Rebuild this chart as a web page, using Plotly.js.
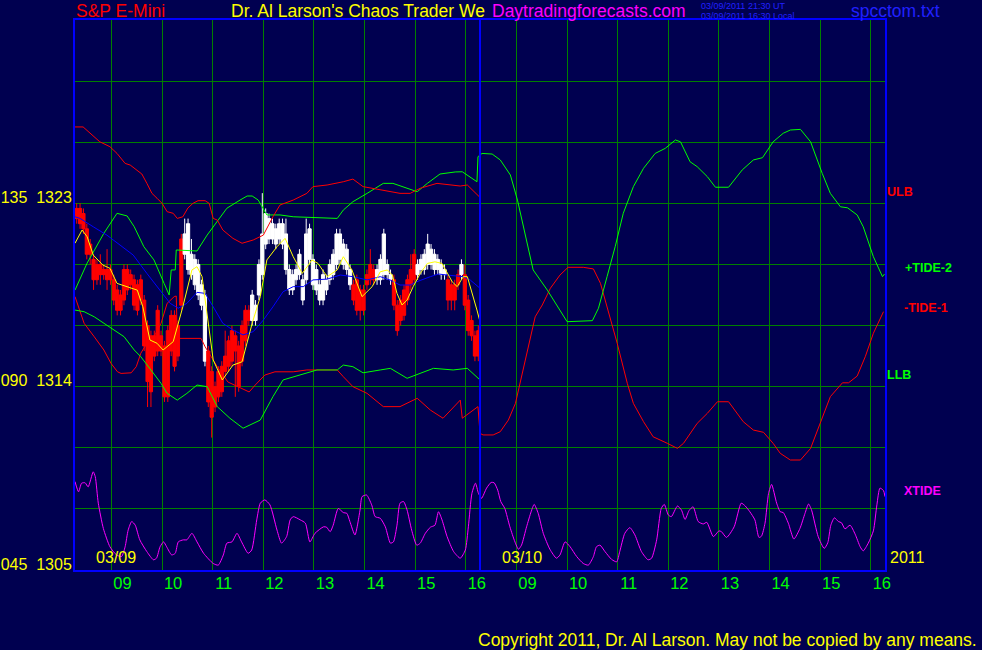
<!DOCTYPE html>
<html>
<head>
<meta charset="utf-8">
<script src="https://cdn.plot.ly/plotly-3.0.1.min.js"></script>
<style>
  html, body { margin: 0; padding: 0; background: #000050; }
  #chart { width: 982px; height: 650px; }
</style>
</head>
<body>
<div id="chart"></div>
<script>
// ---------- DATA ----------
// Time axis: hours since the 08:17 open of 03/09; 03/10 session starts at 8.
const SESSION_OPEN = 8.28;           // clock hour of session start
const DAY_BREAK = 8;                 // session length (hours)
const hourLabels = ['09', '10', '11', '12', '13', '14', '15', '16'];
const clockHours = [9, 10, 11, 12, 13, 14, 15, 16];

// Price grid (every 3 points) and left labels (XTIDE scale + price)
const priceGrid = [1305, 1308, 1311, 1314, 1317, 1320, 1323, 1326, 1329, 1332];
const priceLabels = ['045\u00a0\u00a01305', '', '', '090\u00a0\u00a01314', '', '', '135\u00a0\u00a01323', '', '', ''];

// 4-minute S&P E-Mini bars, 03/09 session (120 bars)
const opens = [1322.75,1322.75,1322.50,1321.75,1321.00,1320.25,1320.00,1320.00,1319.75,1319.75,
1319.75,1319.25,1318.75,1318.50,1319.75,1319.75,1319.50,1319.25,1319.00,1319.25,
1318.25,1317.00,1316.50,1316.50,1317.75,1316.50,1316.00,1316.75,1317.50,1317.50,
1317.00,1321.25,1320.50,1319.75,1319.50,1319.00,1318.50,1318.00,1315.25,1315.75,
1314.75,1314.00,1314.75,1315.00,1315.50,1316.25,1316.75,1316.50,1316.00,1317.00,
1317.75,1317.75,1317.25,1317.25,1318.50,1319.50,1321.00,1321.25,1321.25,1321.00,
1321.25,1321.00,1319.75,1318.75,1318.75,1319.25,1319.50,1318.25,1319.25,1320.25,
1319.00,1318.75,1318.25,1318.25,1318.75,1319.25,1319.50,1320.00,1320.25,1320.00,
1319.75,1319.00,1319.00,1319.25,1318.75,1318.75,1319.50,1320.00,1319.75,1319.25,
1319.25,1319.50,1319.50,1319.25,1319.25,1318.00,1318.25,1318.75,1319.25,1319.75,
1320.50,1319.50,1319.75,1319.75,1320.00,1320.00,1319.75,1319.75,1319.50,1319.50,
1319.25,1319.00,1319.00,1319.50,1319.50,1319.50,1318.25,1317.25,1316.50,1316.75];
const highs = [1323.00,1323.00,1322.75,1322.00,1321.25,1320.50,1320.25,1320.50,1320.00,1320.75,
1320.00,1319.50,1319.00,1318.75,1320.00,1320.00,1319.75,1319.50,1319.25,1319.50,
1318.50,1317.25,1316.75,1316.75,1318.00,1316.75,1316.25,1317.00,1317.75,1317.75,
1317.25,1321.50,1322.25,1322.25,1321.25,1320.50,1320.25,1319.25,1318.75,1316.00,
1315.00,1314.25,1315.00,1315.25,1316.75,1316.50,1317.00,1316.75,1316.25,1317.25,
1318.00,1318.00,1318.75,1318.25,1320.25,1323.50,1322.75,1322.50,1322.25,1322.00,
1322.25,1322.25,1322.25,1320.00,1319.75,1320.00,1320.75,1319.50,1322.25,1322.00,
1320.50,1320.00,1319.25,1319.75,1319.50,1320.25,1320.75,1321.75,1321.75,1321.25,
1321.00,1320.00,1319.25,1319.50,1319.00,1319.00,1319.75,1320.75,1320.00,1320.00,
1320.50,1321.75,1320.25,1319.75,1319.50,1318.25,1318.50,1319.00,1319.50,1320.50,
1320.75,1320.25,1320.50,1320.75,1321.50,1321.00,1320.75,1320.50,1320.25,1320.00,
1319.50,1319.25,1319.25,1319.75,1320.25,1320.00,1318.50,1317.50,1316.75,1317.00];
const lows = [1322.00,1321.75,1321.50,1320.25,1320.00,1318.75,1319.00,1319.00,1319.25,1318.75,
1319.00,1318.00,1317.50,1317.50,1318.00,1318.50,1318.75,1317.75,1317.50,1318.00,
1315.75,1313.00,1313.00,1315.25,1315.50,1315.50,1313.25,1313.25,1315.50,1314.75,
1315.25,1317.75,1320.25,1319.50,1319.25,1318.75,1318.25,1317.75,1315.00,1313.00,
1311.50,1312.75,1313.25,1313.50,1314.50,1314.75,1315.00,1313.50,1313.75,1315.00,
1316.00,1317.00,1317.00,1317.00,1318.25,1319.25,1320.75,1321.00,1321.00,1320.75,
1321.00,1320.75,1319.50,1318.50,1318.50,1319.00,1319.25,1318.00,1319.00,1320.00,
1318.75,1318.50,1318.00,1318.00,1318.50,1319.00,1319.25,1319.75,1320.00,1319.75,
1319.50,1318.75,1318.00,1317.50,1317.25,1317.50,1318.75,1319.00,1319.00,1319.00,
1319.00,1319.25,1319.25,1319.00,1317.75,1316.50,1317.00,1317.25,1318.00,1318.75,
1319.00,1319.25,1319.50,1319.50,1319.75,1319.75,1319.50,1319.50,1319.25,1319.25,
1317.75,1317.75,1317.75,1318.75,1319.25,1317.75,1316.50,1316.25,1315.25,1315.25];
const closes = [1322.25,1322.00,1321.75,1320.50,1320.50,1319.25,1319.25,1319.50,1319.50,1319.25,
1319.25,1318.25,1317.75,1317.75,1318.25,1318.75,1319.00,1318.00,1317.75,1318.25,
1316.00,1314.25,1313.75,1315.50,1315.75,1315.75,1313.50,1313.50,1315.75,1315.00,
1315.50,1318.00,1321.50,1322.00,1320.50,1320.25,1320.00,1319.00,1318.50,1313.25,
1312.50,1313.00,1313.50,1313.75,1314.75,1315.00,1315.25,1315.75,1314.00,1315.25,
1316.25,1317.25,1318.50,1318.00,1320.00,1321.50,1322.50,1322.25,1322.00,1321.75,
1322.00,1322.00,1321.50,1319.75,1319.50,1319.75,1320.50,1319.25,1321.50,1321.75,
1320.25,1319.75,1319.00,1319.50,1319.25,1320.00,1320.50,1321.50,1321.50,1321.00,
1320.75,1319.75,1318.25,1317.75,1317.75,1317.75,1319.00,1319.25,1319.25,1319.75,
1320.25,1321.50,1320.00,1319.50,1318.00,1316.75,1317.25,1317.50,1318.25,1319.00,
1319.25,1320.00,1320.25,1320.50,1321.00,1320.75,1320.50,1320.25,1320.00,1319.75,
1318.25,1318.25,1318.25,1319.00,1320.00,1318.00,1316.75,1316.50,1315.50,1315.50];
const BAR_HOURS = 4 / 60;

// ULB (upper limit band), 03/09
const ulbX = [0,0.16,0.49,0.69,0.83,0.99,1.09,1.23,1.32,1.42,1.52,1.62,1.72,1.82,1.94,2.02,2.13,2.23,2.33,2.43,2.57,2.65,2.73,2.81,2.92,3.12,3.30,3.52,3.72,3.91,4.05,4.31,4.58,4.70,4.98,5.30,5.49,5.69,6.03,6.42,6.62,6.82,7.15,7.47,7.61,7.75,8.00];
const ulbY = [1326.75,1326.75,1326.02,1325.78,1325.45,1324.96,1324.88,1324.63,1324.44,1323.98,1323.49,1323.25,1323.00,1322.59,1322.51,1322.26,1322.34,1322.77,1323.00,1323.13,1323.13,1323.00,1322.26,1322.18,1321.69,1321.28,1321.04,1321.20,1321.44,1322.34,1322.92,1323.16,1323.49,1323.82,1323.90,1324.06,1324.19,1323.82,1323.65,1323.49,1323.49,1323.74,1323.98,1323.90,1323.85,1323.90,1323.29];

// +TIDE-2 (green), both days
const tide2X = [0,0.24,0.57,0.83,1.03,1.17,1.36,1.56,1.76,1.86,1.90,1.98,2.00,2.41,2.61,2.81,3.00,3.26,3.40,3.50,3.62,3.79,4.05,4.31,5.18,5.30,5.49,5.77,6.09,6.28,6.48,6.76,6.96,7.21,7.51,7.65,7.94,7.96,8.04,8.24,8.40,8.60,8.74,8.89,9.05,9.33,9.49,9.72,10.22,10.34,10.51,10.67,10.83,11.03,11.23,11.46,11.66,11.86,11.96,12.15,12.29,12.49,12.65,12.91,13.18,13.40,13.58,13.79,13.99,14.13,14.33,14.53,14.76,14.92,15.12,15.26,15.45,15.57,15.77,15.95,15.99];
const tide2Y = [1318.74,1320.07,1321.53,1322.51,1322.38,1321.85,1320.87,1320.22,1319.07,1318.50,1319.73,1319.73,1320.71,1320.66,1321.44,1322.10,1322.76,1323.16,1323.36,1323.36,1323.16,1322.43,1322.43,1322.34,1322.26,1322.67,1323.08,1323.49,1323.98,1323.98,1323.82,1323.57,1323.98,1324.44,1324.54,1324.55,1324.06,1325.29,1325.45,1325.42,1325.13,1324.39,1323.16,1321.53,1319.73,1318.74,1318.09,1317.19,1317.24,1317.85,1319.40,1320.87,1322.51,1323.82,1324.72,1325.45,1325.70,1326.11,1326.02,1325.04,1324.80,1324.31,1323.79,1323.79,1324.64,1325.13,1325.24,1326.02,1326.44,1326.60,1326.63,1326.02,1324.47,1323.49,1322.83,1322.78,1322.43,1321.85,1320.38,1319.40,1319.53];

// -TIDE-1 (red), both days
const tide1X = [0,0.18,0.38,0.57,0.71,0.84,0.91,1.11,1.21,1.30,1.42,1.56,1.70,1.82,1.96,2.00,2.02,2.49,2.57,2.81,3.02,3.26,3.44,3.56,3.75,3.95,4.31,4.58,5.18,5.30,5.49,5.77,6.09,6.42,6.76,7.02,7.27,7.61,7.65,7.96,8.00,8.06,8.26,8.40,8.56,8.70,8.83,8.95,9.09,9.23,9.39,9.58,9.74,10.04,10.24,10.38,10.51,10.71,10.91,11.03,11.23,11.42,11.70,11.90,12.02,12.15,12.29,12.49,12.69,12.91,13.20,13.40,13.60,13.79,13.93,14.13,14.33,14.53,14.76,14.92,15.16,15.28,15.45,15.61,15.77,15.97];
const tide1Y = [1318.42,1317.11,1316.45,1315.80,1315.15,1314.73,1314.65,1314.68,1314.98,1315.64,1316.13,1316.45,1317.11,1318.09,1318.42,1318.45,1316.37,1316.37,1315.96,1314.98,1314.23,1313.93,1313.74,1314.08,1314.57,1314.73,1314.73,1314.82,1314.82,1314.49,1314.00,1313.67,1313.02,1313.02,1313.43,1312.85,1312.45,1313.34,1312.45,1313.02,1311.71,1311.63,1311.63,1311.79,1312.36,1313.18,1314.65,1315.96,1317.43,1318.01,1318.83,1319.48,1319.86,1319.86,1319.78,1319.07,1317.92,1316.13,1314.16,1313.18,1312.28,1311.54,1311.22,1310.97,1311.22,1311.71,1312.20,1312.69,1313.26,1313.26,1312.28,1311.87,1311.76,1311.22,1310.73,1310.40,1310.40,1310.97,1312.52,1313.51,1314.19,1314.19,1314.52,1315.47,1316.62,1317.68];

// LLB (lower limit band), 03/09
const llbX = [0,0.18,0.38,0.57,0.77,0.97,1.17,1.30,1.50,1.70,1.82,2.02,2.21,2.41,2.61,2.81,3.06,3.32,3.66,3.91,4.11,4.45,4.78,5.18,5.30,5.49,5.69,6.03,6.23,6.56,6.82,7.08,7.47,7.75,8.00];
const llbY = [1317.76,1317.68,1317.43,1317.11,1316.78,1316.45,1315.80,1315.47,1314.82,1314.16,1313.67,1313.34,1313.67,1314.08,1314.00,1313.02,1312.45,1311.96,1312.36,1313.51,1314.33,1314.57,1314.82,1314.82,1315.06,1314.98,1314.68,1314.82,1314.90,1314.41,1314.65,1314.90,1314.82,1314.90,1314.33];

// Slow average (blue), 03/09
const slowX = [0,0.10,0.36,0.63,0.89,1.15,1.42,1.68,1.88,2.04,2.21,2.41,2.57,2.73,2.92,3.12,3.32,3.52,3.72,3.91,4.11,4.31,4.51,4.70,4.98,5.24,5.49,5.77,6.03,6.23,6.42,6.62,6.75,7.02,7.18,7.35,7.67,7.81,8.00];
const slowY = [1322.34,1322.26,1321.85,1321.44,1320.95,1320.46,1319.56,1318.74,1318.09,1317.85,1318.09,1318.63,1318.58,1317.92,1317.11,1316.78,1316.54,1316.70,1317.27,1317.92,1318.66,1318.91,1318.91,1319.24,1319.28,1319.48,1319.40,1319.24,1319.40,1319.23,1318.99,1318.99,1319.15,1319.40,1319.53,1319.48,1319.40,1319.23,1318.83];

// Fast average (yellow), 03/09
const fastX = [0,0.14,0.24,0.36,0.55,0.69,0.83,1.03,1.23,1.34,1.48,1.62,1.74,1.94,2.13,2.31,2.41,2.51,2.61,2.73,2.91,3.12,3.30,3.50,3.66,3.79,3.99,4.15,4.31,4.49,4.68,4.80,4.98,5.18,5.30,5.47,5.67,5.87,6.03,6.17,6.27,6.36,6.46,6.56,6.68,6.82,6.96,7.11,7.25,7.35,7.45,7.55,7.67,7.75,7.85,7.94,8.00];
const fastY = [1321.04,1321.69,1321.36,1320.46,1319.97,1319.81,1319.07,1318.91,1318.74,1317.92,1316.29,1316.13,1315.80,1316.21,1317.92,1319.73,1319.89,1319.40,1317.60,1315.31,1314.33,1315.06,1315.22,1317.11,1318.42,1320.22,1320.87,1321.28,1320.38,1319.56,1320.22,1320.05,1319.40,1319.73,1320.38,1319.73,1318.42,1318.91,1319.64,1319.73,1319.48,1318.58,1318.01,1318.25,1318.91,1319.56,1320.05,1320.13,1320.05,1319.56,1319.15,1318.91,1319.40,1319.40,1318.58,1317.76,1317.19];

// XTIDE (magenta), oscillator scale 045..135
const xtideX = [0.00,0.07,0.13,0.20,0.26,0.36,0.40,0.46,0.56,0.69,0.82,0.92,0.99,1.05,1.12,1.19,1.28,1.42,1.55,1.61,1.68,1.75,1.81,1.91,1.98,2.04,2.14,2.21,2.31,2.41,2.54,2.73,2.83,2.93,3.00,3.10,3.20,3.29,3.42,3.49,3.59,3.66,3.75,3.85,3.99,4.08,4.18,4.25,4.31,4.45,4.55,4.64,4.74,4.91,4.97,5.04,5.10,5.20,5.30,5.37,5.43,5.53,5.63,5.67,5.76,5.86,5.93,6.03,6.13,6.23,6.29,6.36,6.42,6.49,6.56,6.65,6.75,6.82,6.92,7.02,7.11,7.18,7.25,7.35,7.48,7.61,7.71,7.77,7.84,7.91,7.97,
8.03,8.13,8.22,8.28,8.35,8.41,8.49,8.59,8.69,8.76,8.82,8.92,9.01,9.07,9.15,9.25,9.38,9.51,9.58,9.68,9.78,9.91,10.04,10.14,10.24,10.30,10.37,10.47,10.60,10.70,10.76,10.86,10.96,11.06,11.19,11.32,11.39,11.49,11.58,11.64,11.72,11.78,11.90,11.98,12.05,12.13,12.21,12.31,12.41,12.48,12.61,12.72,12.77,12.87,13.02,13.16,13.24,13.33,13.43,13.51,13.56,13.63,13.70,13.76,13.86,13.93,13.99,14.09,14.20,14.32,14.42,14.49,14.55,14.68,14.80,14.87,14.93,15.00,15.08,15.14,15.21,15.31,15.41,15.51,15.57,15.67,15.77,15.84,15.90,15.97,16.00];
const xtideY = [66.7,64.2,66.3,66.4,65.4,69.1,67.9,61.4,55.2,50.7,48.7,48.3,50.7,54.8,56.9,56.0,52.4,49.5,47.5,47.9,50.7,51.9,50.7,48.7,49.1,51.9,52.4,52.4,54.0,51.9,49.1,46.6,46.2,48.7,51.6,51.9,54.0,51.9,49.1,49.9,57.3,61.4,62.2,61.0,54.8,51.6,53.2,57.3,58.1,57.3,56.5,51.9,54.0,55.6,55.5,54.4,56.0,60.1,59.1,58.9,56.9,53.6,59.7,63.0,63.4,61.0,58.1,57.7,55.6,51.6,51.9,56.0,61.4,61.8,59.7,54.8,51.1,51.6,54.0,55.5,56.0,59.3,57.3,53.2,49.5,47.9,49.9,55.6,63.8,66.3,63.8,
62.6,65.1,66.5,66.4,64.6,61.8,60.1,55.6,51.9,50.1,51.1,55.6,59.3,61.1,58.9,54.0,50.1,47.9,48.7,51.9,50.7,48.3,46.6,46.2,48.3,50.7,51.1,49.5,47.6,47.0,49.5,54.0,55.4,53.6,49.5,47.5,47.9,52.4,60.1,61.1,58.5,58.1,60.7,59.7,57.4,59.6,60.5,56.9,56.3,56.7,53.2,54.6,54.4,53.0,55.6,61.4,60.7,59.3,57.3,53.0,53.3,56.5,63.8,66.0,61.4,59.3,59.1,56.5,52.6,55.2,58.9,61.2,59.7,53.2,50.3,51.7,56.0,57.8,56.9,56.6,55.1,56.0,53.8,50.7,49.7,51.6,54.6,61.0,65.1,64.5,63.0];

// ---------- CHART ----------
const SANS = '"Liberation Sans", Arial, Helvetica, sans-serif';
const BG = '#000050';
const GRID = '#008000';
const FRAME = '#0000ff';

const barTimes = opens.map((_, i) => (i + 0.5) * BAR_HOURS);
const hourTickVals = clockHours.map(h => h - SESSION_OPEN)
  .concat(clockHours.map(h => h - SESSION_OPEN + DAY_BREAK));
const hourTickText = hourLabels.concat(hourLabels);

function line(x, y, color, extra) {
  return Object.assign({
    type: 'scatter', mode: 'lines', x: x, y: y,
    line: { color: color, width: 1 },
    hoverinfo: 'skip', showlegend: false
  }, extra || {});
}

const traces = [
  line(tide1X, tide1Y, '#ff0000'),
  line(tide2X, tide2Y, '#00ff00'),
  line(ulbX, ulbY, '#ff0000'),
  line(llbX, llbY, '#00ff00'),
  {
    type: 'candlestick', x: barTimes, open: opens, high: highs, low: lows, close: closes,
    increasing: { line: { color: '#ffffff', width: 1 }, fillcolor: '#ffffff' },
    decreasing: { line: { color: '#ff0000', width: 1 }, fillcolor: '#ff0000' },
    whiskerwidth: 0, hoverinfo: 'skip', showlegend: false
  },
  line(slowX, slowY, '#0000ff'),
  line(fastX, fastY, '#ffff00'),
  line(xtideX, xtideY, '#ff00ff', { yaxis: 'y2', line: { color: '#ff00ff', width: 1, shape: 'spline', smoothing: 0.6 } })
];

function note(text, x, y, color, size, anchor, weight) {
  return {
    xref: 'paper', yref: 'paper', x: x, y: y, text: text, showarrow: false,
    xanchor: anchor || 'left', yanchor: 'middle', borderpad: 0,
    font: { family: SANS, size: size, color: color, weight: weight || 'normal' }
  };
}

const layout = {
  width: 982, height: 650,
  margin: { l: 75, r: 97, t: 20, b: 80, pad: 0 },
  paper_bgcolor: BG, plot_bgcolor: BG,
  showlegend: false,
  boxgap: 0.05, boxgroupgap: 0,
  xaxis: {
    range: [0, 2 * DAY_BREAK], fixedrange: true,
    tickmode: 'array', tickvals: hourTickVals, ticktext: hourTickText,
    showgrid: true, gridcolor: GRID, gridwidth: 1, zeroline: false,
    showline: true, mirror: true, linecolor: FRAME, linewidth: 2,
    ticks: '', ticklabelshift: 11, ticklabelstandoff: -3,
    tickfont: { family: SANS, size: 16.5, color: '#00ff00' },
    rangeslider: { visible: false }
  },
  yaxis: {
    range: [priceGrid[0], priceGrid[priceGrid.length - 1]], fixedrange: true,
    tickmode: 'array', tickvals: priceGrid, ticktext: priceLabels,
    showgrid: true, gridcolor: GRID, gridwidth: 1, zeroline: false,
    showline: true, mirror: true, linecolor: FRAME, linewidth: 2,
    ticks: '', ticklabelshift: -6, ticklabelstandoff: -2,
    tickfont: { family: SANS, size: 16, color: '#ffff00' }
  },
  yaxis2: { range: [45, 180], overlaying: 'y', visible: false, fixedrange: true },
  shapes: [{
    type: 'line', xref: 'x', yref: 'paper', x0: DAY_BREAK, x1: DAY_BREAK, y0: 0, y1: 1,
    line: { color: FRAME, width: 2 }
  }],
  annotations: [
    note('S&amp;P E-Mini', 0.0, 1.0164, '#ff0000', 17.5),
    note("Dr. Al Larson's Chaos Trader We", 0.1914, 1.0164, '#ffff00', 17.5),
    note('Daytradingforecasts.com', 0.5136, 1.0164, '#ff00ff', 17.5),
    note('03/09/2011 21:30 UT', 0.7716, 1.0255, '#2020ff', 9),
    note('03/09/2011 16:30 Local', 0.7716, 1.0076, '#2020ff', 9),
    note('spcctom.txt', 0.9568, 1.0164, '#2020ff', 17.5),
    note('Copyright 2011, Dr. Al Larson. May not be copied by any means.', 1.1148, -0.1273, '#ffff00', 17.5, 'right'),
    note('03/09', 0.0247, 0.0236, '#ffff00', 16),
    note('03/10', 0.526, 0.0236, '#ffff00', 16),
    note('2011', 1.005, 0.0236, '#ffff00', 16),
    note('ULB', 1.0012, 0.6873, '#ff0000', 12.5, 'left', 'bold'),
    note('+TIDE-2', 1.0235, 0.549, '#00ff00', 12.5, 'left', 'bold'),
    note('-TIDE-1', 1.0222, 0.4764, '#ff0000', 12.5, 'left', 'bold'),
    note('LLB', 1.0012, 0.3545, '#00ff00', 12.5, 'left', 'bold'),
    note('XTIDE', 1.0222, 0.1436, '#ff00ff', 12.5, 'left', 'bold')
  ]
};

Plotly.newPlot('chart', traces, layout, { staticPlot: true, displayModeBar: false });
</script>
</body>
</html>
